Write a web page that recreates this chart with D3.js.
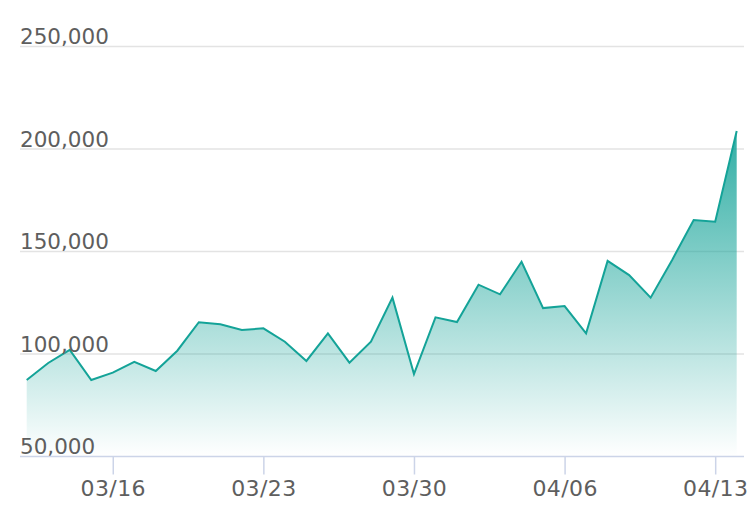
<!DOCTYPE html>
<html>
<head>
<meta charset="utf-8">
<script src="https://cdn.jsdelivr.net/npm/d3@7"></script>
<style>
  html, body { margin: 0; padding: 0; background: #fff; }
  svg { display: block; }
  text { font-family: "DejaVu Sans", Verdana, sans-serif; }
</style>
</head>
<body>
<svg id="chart" width="756" height="524"></svg>
<script>
// ---- data ----
const dates = [
  "2020-03-12","2020-03-13","2020-03-14","2020-03-15","2020-03-16","2020-03-17",
  "2020-03-18","2020-03-19","2020-03-20","2020-03-21","2020-03-22","2020-03-23",
  "2020-03-24","2020-03-25","2020-03-26","2020-03-27","2020-03-28","2020-03-29",
  "2020-03-30","2020-03-31","2020-04-01","2020-04-02","2020-04-03","2020-04-04",
  "2020-04-05","2020-04-06","2020-04-07","2020-04-08","2020-04-09","2020-04-10",
  "2020-04-11","2020-04-12","2020-04-13","2020-04-14"
];
const values = [
  87300, 95600, 102000, 87300, 90900, 96200,
  91700, 101600, 115500, 114500, 111700, 112500,
  106000, 96600, 110100, 95800, 106000, 127500,
  90200, 117900, 115600, 133800, 129100, 145000,
  122400, 123400, 110100, 145400, 138500, 127500,
  145900, 165400, 164500, 208800
];
const yTicks = [50000, 100000, 150000, 200000, 250000];
const xTickLabels = ["03/16", "03/23", "03/30", "04/06", "04/13"];

// ---- setup ----
const parse = d3.timeParse("%Y-%m-%d");
const fmtTick = d3.timeFormat("%m/%d");
const data = dates.map((d, i) => ({ date: parse(d), value: values[i] }));
const xTickDates = xTickLabels.map(l => parse("2020-" + l.replace("/", "-")));

const svg = d3.select("#chart");
const gridLeft = 20, gridRight = 744;

const x = d3.scaleTime()
  .domain(d3.extent(data, d => d.date))
  .range([26.7, 736.7]);
const y = d3.scaleLinear()
  .domain([50000, 250000])
  .range([456.5, 46.5]);

// gradient
const defs = svg.append("defs");
const grad = defs.append("linearGradient")
  .attr("id", "areaGrad")
  .attr("gradientUnits", "userSpaceOnUse")
  .attr("x1", 0).attr("x2", 0)
  .attr("y1", y(d3.max(values))).attr("y2", y(50000));
grad.append("stop").attr("offset", "0%").attr("stop-color", "#14a398").attr("stop-opacity", 0.88);
grad.append("stop").attr("offset", "100%").attr("stop-color", "#14a398").attr("stop-opacity", 0.0);

// grid lines
svg.append("g")
  .selectAll("line")
  .data(yTicks.filter(t => t !== 50000))
  .join("line")
  .attr("x1", gridLeft).attr("x2", gridRight)
  .attr("y1", d => y(d)).attr("y2", d => y(d))
  .attr("stroke", "#e3e3e3")
  .attr("stroke-width", 1.5);

// area
const area = d3.area()
  .x(d => x(d.date))
  .y0(y(50000))
  .y1(d => y(d.value));
svg.append("path")
  .datum(data)
  .attr("d", area)
  .attr("fill", "url(#areaGrad)");

// line
const line = d3.line()
  .x(d => x(d.date))
  .y(d => y(d.value));
svg.append("path")
  .datum(data)
  .attr("d", line)
  .attr("fill", "none")
  .attr("stroke", "#14a398")
  .attr("stroke-width", 2)
  .attr("stroke-linejoin", "miter");

// y labels
svg.append("g")
  .selectAll("text")
  .data(yTicks)
  .join("text")
  .attr("x", gridLeft)
  .attr("y", d => y(d) - 2.5)
  .attr("fill", "#5e5e5e")
  .attr("font-size", 21.5)
  .text(d => d3.format(",")(d));

// x axis
svg.append("line")
  .attr("x1", gridLeft).attr("x2", gridRight)
  .attr("y1", y(50000)).attr("y2", y(50000))
  .attr("stroke", "#ccd4e8")
  .attr("stroke-width", 1.5);

const xAxis = d3.axisBottom(x)
  .tickValues(xTickDates)
  .tickFormat(fmtTick)
  .tickSize(18)
  .tickPadding(6);
const gx = svg.append("g")
  .attr("transform", `translate(0,${y(50000)})`)
  .call(xAxis);
gx.select(".domain").remove();
gx.selectAll(".tick line").attr("stroke", "#ccd4e8").attr("stroke-width", 1.5);
gx.selectAll(".tick text")
  .attr("fill", "#5e5e5e")
  .attr("font-size", 22)
  .attr("letter-spacing", 0.4)
  .attr("font-family", "DejaVu Sans, Verdana, sans-serif");
</script>
</body>
</html>
